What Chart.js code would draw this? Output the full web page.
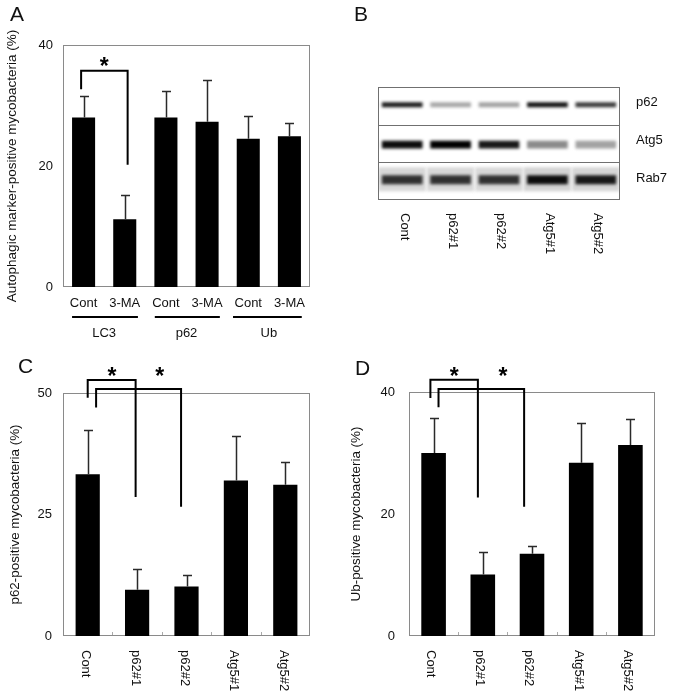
<!DOCTYPE html>
<html><head><meta charset="utf-8">
<script src="https://cdn.jsdelivr.net/npm/chart.js@4"></script>
<style>
html,body{margin:0;padding:0;background:#fff;}
body{width:675px;height:700px;position:relative;overflow:hidden;font-family:'Liberation Sans',Arial,sans-serif;}
canvas{position:absolute;}
.lbl{position:absolute;font-size:21px;line-height:24px;color:#111;}
</style></head><body>
<canvas id="cA" width="330" height="345" style="left:0;top:0"></canvas>
<canvas id="cB" width="335" height="340" style="left:340px;top:0"></canvas>
<canvas id="cC" width="330" height="355" style="left:0;top:345px"></canvas>
<canvas id="cD" width="335" height="355" style="left:340px;top:345px"></canvas>
<div class="lbl" style="left:10px;top:2px">A</div>
<div class="lbl" style="left:354px;top:2px">B</div>
<div class="lbl" style="left:18px;top:354px">C</div>
<div class="lbl" style="left:355px;top:356px">D</div>
<script>
// ---------- data ----------
const panelACategories = ['Cont', '3-MA', 'Cont', '3-MA', 'Cont', '3-MA'];
const panelAGroups = ['LC3', 'p62', 'Ub'];
const panelAMeans = [28.0, 11.2, 28.0, 27.3, 24.5, 24.9];
const panelAErrors = [3.5, 4.0, 4.4, 6.9, 3.7, 2.2];
const panelAYTicks = [0, 20, 40];

const knockdownLanes = ['Cont', 'p62#1', 'p62#2', 'Atg5#1', 'Atg5#2'];
const blotProteins = ['p62', 'Atg5', 'Rab7'];
const bandP62 = [0.88, 0.30, 0.32, 0.92, 0.75];
const bandAtg5 = [0.95, 1.0, 0.90, 0.42, 0.32];
const bandRab7 = [0.80, 0.80, 0.80, 0.95, 0.90];
const smearRab7 = [0.10, 0.10, 0.10, 0.12, 0.11];

const panelCMeans = [33.3, 9.5, 10.2, 32.0, 31.1];
const panelCErrors = [9.0, 4.2, 2.4, 9.2, 4.6];
const panelCYTicks = [0, 25, 50];

const panelDMeans = [30.0, 10.1, 13.5, 28.4, 31.3];
const panelDErrors = [5.8, 3.6, 1.2, 6.6, 4.3];
const panelDYTicks = [0, 20, 40];

// ---------- plugins ----------
const FONT = "'Liberation Sans', Arial, sans-serif";
const frame = { id: 'frame', beforeDatasetsDraw(chart, a, o) {
  if (!o.on) return;
  const { ctx, chartArea: c } = chart;
  ctx.save(); ctx.strokeStyle = o.color || '#8a8a8a'; ctx.lineWidth = 1;
  ctx.strokeRect(Math.round(c.left) + 0.5, Math.round(c.top) + 0.5, Math.round(c.right - c.left) - 1, Math.round(c.bottom - c.top) - 1);
  if (o.catTicks) {
    const xs = chart.scales.x; const n = chart.data.labels.length;
    ctx.strokeStyle = '#aaa';
    for (let i = 1; i < n; i++) { const x = Math.round(xs.getPixelForValue(i - 0.5)) + 0.5; ctx.beginPath(); ctx.moveTo(x, c.bottom - 1); ctx.lineTo(x, c.bottom - 4); ctx.stroke(); }
  }
  ctx.restore();
}, afterDraw(chart, a, o) {
  if (!o.rows) return;
  const { ctx, chartArea: c } = chart; const ys = chart.scales.y;
  ctx.save(); ctx.strokeStyle = o.color || '#8a8a8a'; ctx.lineWidth = 1;
  ctx.strokeRect(Math.round(c.left) + 0.5, Math.round(c.top) + 0.5, Math.round(c.right - c.left) - 1, Math.round(c.bottom - c.top) - 1);
  o.rows.forEach(v => { const y = Math.round(ys.getPixelForValue(v)) + 0.5; ctx.beginPath(); ctx.moveTo(c.left, y); ctx.lineTo(c.right, y); ctx.stroke(); });
  ctx.restore();
}};
const errBars = { id: 'errBars', afterDatasetsDraw(chart) {
  const ctx = chart.ctx, ys = chart.scales.y;
  chart.data.datasets.forEach((ds, i) => {
    if (!ds.errors) return;
    chart.getDatasetMeta(i).data.forEach((bar, j) => {
      const x = Math.round(bar.x) + 0.5, y0 = ys.getPixelForValue(ds.data[j]), y1 = Math.round(ys.getPixelForValue(ds.data[j] + ds.errors[j])) + 0.5;
      ctx.save(); ctx.strokeStyle = '#2a2a2a'; ctx.lineWidth = 1.5;
      ctx.beginPath(); ctx.moveTo(x, y0); ctx.lineTo(x, y1); ctx.moveTo(x - 4.5, y1); ctx.lineTo(x + 4.5, y1); ctx.stroke(); ctx.restore();
    });
  });
}};
const annot = { id: 'annot', afterDraw(chart, a, o) {
  const ctx = chart.ctx, xs = chart.scales.x, ys = chart.scales.y;
  ctx.save();
  (o.brackets || []).forEach(b => {
    const x0 = xs.getPixelForValue(b.x0), x1 = xs.getPixelForValue(b.x1);
    ctx.strokeStyle = '#000'; ctx.lineWidth = 2; ctx.lineJoin = 'miter';
    ctx.beginPath(); ctx.moveTo(x0, ys.getPixelForValue(b.yl)); ctx.lineTo(x0, ys.getPixelForValue(b.top));
    ctx.lineTo(x1, ys.getPixelForValue(b.top)); ctx.lineTo(x1, ys.getPixelForValue(b.yr)); ctx.stroke();
  });
  (o.stars || []).forEach(s => {
    ctx.fillStyle = '#000'; ctx.font = 'bold 23px ' + FONT; ctx.textAlign = 'center'; ctx.textBaseline = 'alphabetic';
    ctx.fillText('*', xs.getPixelForValue(s.x), ys.getPixelForValue(s.y) + 12.5);
  });
  (o.groupLines || []).forEach(g => {
    ctx.strokeStyle = '#000'; ctx.lineWidth = 2;
    ctx.beginPath(); ctx.moveTo(xs.getPixelForValue(g.x0), g.y); ctx.lineTo(xs.getPixelForValue(g.x1), g.y); ctx.stroke();
  });
  if (o.rotLabels) {
    ctx.fillStyle = '#111'; ctx.font = '13px ' + FONT; ctx.textAlign = 'left'; ctx.textBaseline = 'middle';
    o.rotLabels.labels.forEach((t, i) => {
      ctx.save(); ctx.translate(xs.getPixelForValue(i) + (o.rotLabels.dx || 0), o.rotLabels.y); ctx.rotate(Math.PI / 2); ctx.fillText(t, 0, 0); ctx.restore();
    });
  }
  if (o.rightLabels) {
    ctx.fillStyle = '#111'; ctx.font = '13px ' + FONT; ctx.textAlign = 'left'; ctx.textBaseline = 'middle';
    o.rightLabels.labels.forEach((t, i) => ctx.fillText(t, o.rightLabels.x, ys.getPixelForValue(o.rightLabels.rows[i]) + o.rightLabels.dy));
  }
  ctx.restore();
}};
const blur = { id: 'blur',
  beforeDatasetsDraw(chart, a, o) { if (o.px) { chart.ctx.save(); chart.ctx.filter = 'blur(' + o.px + 'px)'; } },
  afterDatasetsDraw(chart, a, o) { if (o.px) chart.ctx.restore(); }
};

function yAxis(ticks, max, width, tickPad, title, titleSize, titlePad) {
  return {
    min: 0, max: max,
    afterBuildTicks: s => { s.ticks = ticks.map(v => ({ value: v })); },
    afterFit: s => { s.width = width; },
    grid: { display: false, drawTicks: false }, border: { display: false },
    ticks: { padding: tickPad, color: '#111', font: { size: 13, family: FONT } },
    title: { display: true, text: title, color: '#111', font: { size: titleSize, family: FONT }, padding: { top: titlePad, bottom: 0 } }
  };
}

function barPanel(id, labels, means, errors, yTicks, max, o) {
  return new Chart(document.getElementById(id), {
    type: 'bar',
    data: { labels: labels, datasets: [{ data: means, errors: errors, backgroundColor: '#000', borderWidth: 0, barPercentage: o.barPct, categoryPercentage: 1, xAxisID: 'x' }] },
    options: {
      responsive: false, animation: false, events: [],
      layout: { padding: o.pad },
      plugins: { legend: { display: false }, tooltip: { enabled: false }, frame: { on: true, catTicks: o.catTicks }, annot: o.annot, blur: {} },
      scales: Object.assign({
        x: { afterFit: s => { s.height = o.xh; }, weight: 0, grid: { display: false, drawTicks: false }, border: { display: false },
             ticks: { display: o.xTicks, padding: o.xPad, maxRotation: 0, autoSkip: false, color: '#111', font: { size: 13, family: FONT } } },
        y: yAxis(yTicks, max, o.yw, o.yPad, o.title, o.titleSize, o.titlePad)
      }, o.extraScales || {})
    },
    plugins: [frame, errBars, annot, blur]
  });
}

// Panel A
barPanel('cA', panelACategories, panelAMeans, panelAErrors, panelAYTicks, 40, {
  barPct: 0.56, pad: { top: 45, right: 20, left: 0, bottom: 0 }, xh: 28, xPad: 9, xTicks: true,
  yw: 63, yPad: 10, title: 'Autophagic marker-positive mycobacteria (%)', titleSize: 13.5, titlePad: 4.5,
  extraScales: { xg: { type: 'category', labels: panelAGroups, offset: true, position: 'bottom', weight: 1,
    afterFit: s => { s.height = 30; }, grid: { display: false, drawTicks: false }, border: { display: false },
    ticks: { padding: 11, maxRotation: 0, autoSkip: false, color: '#111', font: { size: 13, family: FONT } } } },
  annot: {
    brackets: [{ x0: -0.06, x1: 1.07, top: 35.75, yl: 32.7, yr: 20.2 }],
    stars: [{ x: 0.5, y: 37.2 }],
    groupLines: [{ x0: -0.28, x1: 1.32, y: 317 }, { x0: 1.73, x1: 3.31, y: 317 }, { x0: 3.63, x1: 5.3, y: 317 }]
  }
});

// Panel B (western blot, band intensities); first dataset is drawn on top
const bandRows = [2.53, 1.47, 0.535, 0.55];
const bandHalf = [0.065, 0.1, 0.12, 0.32];
const bandSets = [bandP62, bandAtg5, bandRab7, smearRab7].map((vals, r) => ({
  data: vals.map(() => [bandRows[r] - bandHalf[r], bandRows[r] + bandHalf[r]]),
  backgroundColor: vals.map(v => { const g = Math.round(240 * (1 - v)); return `rgb(${g},${g},${g})`; }),
  borderWidth: 0, barPercentage: r === 3 ? 0.98 : 0.84, categoryPercentage: 1, grouped: false
}));
new Chart(document.getElementById('cB'), {
  type: 'bar',
  data: { labels: knockdownLanes, datasets: bandSets },
  options: {
    responsive: false, animation: false, events: [],
    layout: { padding: { left: 38, top: 87, right: 55, bottom: 140 } },
    plugins: { legend: { display: false }, tooltip: { enabled: false }, blur: { px: 1.8 },
      frame: { on: false, color: '#707070', rows: [1, 2] },
      annot: { rotLabels: { labels: knockdownLanes, y: 213, dx: 2 }, rightLabels: { labels: blotProteins, x: 296, rows: [2.5, 1.5, 0.5], dy: -3 } } },
    scales: { x: { display: false }, y: { display: false, min: 0, max: 3 } }
  },
  plugins: [frame, blur, annot]
});

// Panel C
barPanel('cC', knockdownLanes, panelCMeans, panelCErrors, panelCYTicks, 50, {
  barPct: 0.49, pad: { top: 48, right: 20, left: 0, bottom: 0 }, xh: 64, xPad: 8, xTicks: false, catTicks: true,
  yw: 63, yPad: 11, title: 'p62-positive mycobacteria (%)', titleSize: 13.4, titlePad: 7,
  annot: {
    brackets: [{ x0: 0.0, x1: 0.97, top: 52.7, yl: 49.0, yr: 28.6 }, { x0: 0.17, x1: 1.89, top: 50.8, yl: 47.0, yr: 26.6 }],
    stars: [{ x: 0.49, y: 54.4 }, { x: 1.46, y: 54.4 }],
    rotLabels: { labels: knockdownLanes, y: 305, dx: -2 }
  }
});

// Panel D
barPanel('cD', knockdownLanes, panelDMeans, panelDErrors, panelDYTicks, 40, {
  barPct: 0.5, pad: { top: 47, right: 20, left: 0, bottom: 0 }, xh: 64, xPad: 8, xTicks: false, catTicks: true,
  yw: 69, yPad: 14, title: 'Ub-positive mycobacteria (%)', titleSize: 13.4, titlePad: 8.5,
  annot: {
    brackets: [{ x0: -0.065, x1: 0.9, top: 42.0, yl: 39.0, yr: 22.7 }, { x0: 0.1, x1: 1.84, top: 40.5, yl: 37.5, yr: 21.2 }],
    stars: [{ x: 0.42, y: 43.4 }, { x: 1.41, y: 43.4 }],
    rotLabels: { labels: knockdownLanes, y: 305, dx: -3 }
  }
});
</script>
</body></html>
